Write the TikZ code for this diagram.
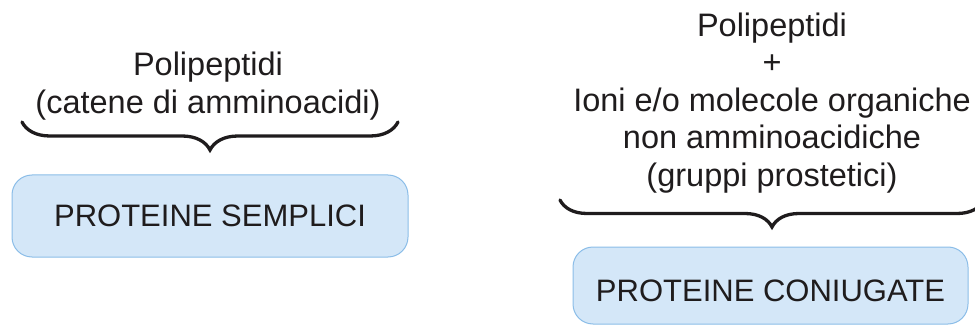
\documentclass[tikz,border=0pt]{standalone}
\usepackage{fontspec}
\setmainfont{Liberation Sans}
\usetikzlibrary{decorations.pathreplacing}
\definecolor{boxfill}{HTML}{D4E7F8}
\definecolor{boxline}{HTML}{8BBDE8}
\definecolor{inkdark}{HTML}{1F1C1D}
\tikzset{
  heading/.style={align=center, inner sep=0pt, text=inkdark,
    font=\fontsize{32.5}{37.5}\selectfont},
  classbox/.style={draw=boxline, fill=boxfill, line width=1pt,
    rounded corners=20pt, inner sep=0pt},
  classtext/.style={inner sep=0pt, text=inkdark,
    font=\fontsize{31}{36}\selectfont},
  groupbrace/.style={draw=inkdark, line width=3.3pt, line cap=round,
    decorate, decoration={brace, amplitude=#1, aspect=0.5}},
}
\begin{document}
\begin{tikzpicture}[x=1pt, y=-1pt]
\useasboundingbox (0,0) rectangle (975,326);

% simple proteins
\node[heading] (simplesrc) at (208,86) {Polipeptidi\\(catene di amminoacidi)};
\coordinate (sbL) at (22,122);
\coordinate (sbR) at (398,122);
\draw[groupbrace=28pt] (sbR) -- (sbL);
\node[classbox, minimum width=396pt, minimum height=82pt] (simple) at (210,216) {};
\node[classtext] (simplelbl) at (simple.center) {PROTEINE SEMPLICI};

% conjugated proteins
\node[heading] (conjsrc) at (772,103)
  {Polipeptidi\\+\\Ioni e/o molecole organiche\\non amminoacidiche\\(gruppi prostetici)};
\coordinate (cbL) at (560,200);
\coordinate (cbR) at (984,200);
\draw[groupbrace=27pt] (cbR) -- (cbL);
\node[classbox, minimum width=395pt, minimum height=77pt] (conj) at (770.5,285.5) {};
\node[classtext] (conjlbl) at ([yshift=-5.5pt]conj.center) {PROTEINE CONIUGATE};
\end{tikzpicture}
\end{document}
